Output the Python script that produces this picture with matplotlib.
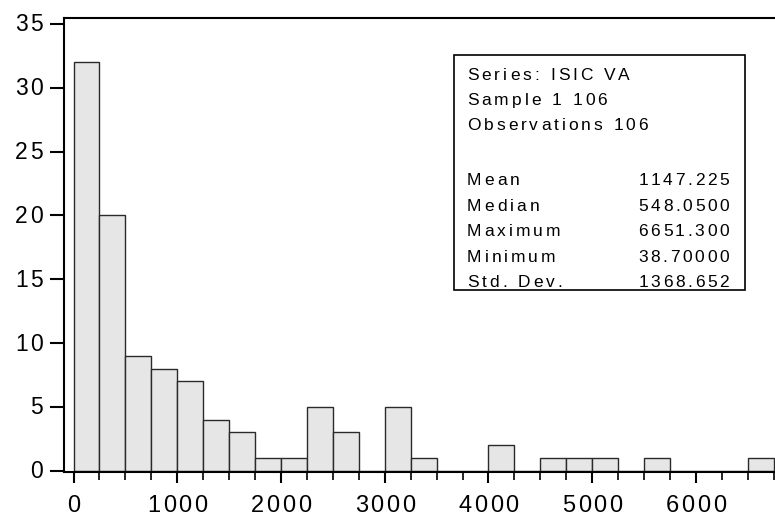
import matplotlib
matplotlib.use("Agg")
import matplotlib.pyplot as plt
from matplotlib import font_manager
from matplotlib.ft2font import FT2Font, LoadFlags
from matplotlib.patches import Rectangle

# Histogram data (bin width 250)
bin_edges = [i * 250 for i in range(28)]
counts = [32, 20, 9, 8, 7, 4, 3, 1, 1, 5, 3, 0, 5, 1, 0, 0, 2, 0, 1, 1, 1, 0, 1, 0, 0, 0, 1]
x_ticks = [0, 1000, 2000, 3000, 4000, 5000, 6000]
y_ticks = [0, 5, 10, 15, 20, 25, 30, 35]

stats_header = ["Series: ISIC VA", "Sample 1 106", "Observations 106"]
stat_names = ["Mean", "Median", "Maximum", "Minimum", "Std. Dev."]
stat_values = ["1147.225", "548.0500", "6651.300", "38.70000", "1368.652"]

# locate regular Liberation Sans (not Narrow)
font_path = None
for f in font_manager.fontManager.ttflist:
    if f.name == 'Liberation Sans' and f.style == 'normal' and f.weight in (400, 'normal', 'regular') \
            and 'Narrow' not in f.fname:
        font_path = f.fname
        break
if font_path is None:
    font_path = font_manager.findfont(font_manager.FontProperties(family='DejaVu Sans'))

W, H = 775, 516
DPI = 100
fig = plt.figure(figsize=(W / DPI, H / DPI), dpi=DPI)
ax = fig.add_axes([64 / W, 1 - 472.3 / H, 1 - 64 / W, (472.3 - 18) / H])

ft = FT2Font(font_path)


def advances(s, size):
    ft.set_size(size, DPI)
    out = []
    for ch in s:
        g = ft.load_char(ord(ch), flags=LoadFlags.NO_HINTING)
        out.append(g.linearHoriAdvance / 65536.0)
    return out


def spaced_text(x_px, base_px, s, size, spacing, ha='left', zorder=6):
    adv = advances(s, size)
    total = sum(adv) + spacing * (len(s) - 1)
    if ha == 'left':
        x0 = x_px
    elif ha == 'right':
        x0 = x_px - total
    else:
        x0 = x_px - total / 2
    x = x0
    fp = font_manager.FontProperties(fname=font_path, size=size)
    for ch, a in zip(s, adv):
        if ch != ' ':
            fig.text(x / W, 1 - base_px / H, ch, ha='left', va='baseline',
                     fontproperties=fp, zorder=zorder)
        x += a + spacing


ax.bar(bin_edges[:-1], counts, width=250, align='edge',
       color='#e6e6e6', edgecolor='#2a2a2a', linewidth=1.0, zorder=2)

ax.set_xlim(-92, 6762)
ax.set_ylim(-0.12, 35.47)

ax.set_xticks(x_ticks)
ax.set_xticks(bin_edges, minor=True)
ax.set_yticks(y_ticks)
ax.set_xticklabels([])
ax.set_yticklabels([])

ax.tick_params(axis='x', which='major', direction='out', length=8, width=1.5, color='black')
ax.tick_params(axis='x', which='minor', direction='out', length=6, width=1.2, color='black')
ax.tick_params(axis='y', which='major', direction='out', length=10, width=1.5, color='black')

for s in ['left', 'bottom', 'top']:
    ax.spines[s].set_linewidth(1.5)
    ax.spines[s].set_color('black')
ax.spines['right'].set_visible(False)

# tick labels with letter spacing, positioned via the axes transform
for t in x_ticks:
    px, _ = ax.transData.transform((t, 0))
    spaced_text(px, 512, str(t), 17, 2.5, ha='center')
for t in y_ticks:
    _, py = ax.transData.transform((0, t))
    py_img = H - py
    spaced_text(43, py_img + 7.5, str(t), 16.5, 2.3, ha='right')

# Stats box
box = Rectangle((454 / W, 1 - 290 / H), (745 - 454) / W, (290 - 55) / H,
                transform=fig.transFigure, facecolor='white', edgecolor='black',
                linewidth=1.2, zorder=5)
fig.patches.append(box)

header_base = [79.5, 105, 130.5]
for txt, b in zip(stats_header, header_base):
    spaced_text(467, b, txt, 12.5, 3.0, ha='left')

stat_base = [185, 210.5, 236, 261.5, 287]
for name, val, b in zip(stat_names, stat_values, stat_base):
    spaced_text(467, b, name, 12.5, 3.0, ha='left')
    spaced_text(729, b, val, 12.5, 2.6, ha='right')

fig.savefig("out.png", dpi=DPI)
